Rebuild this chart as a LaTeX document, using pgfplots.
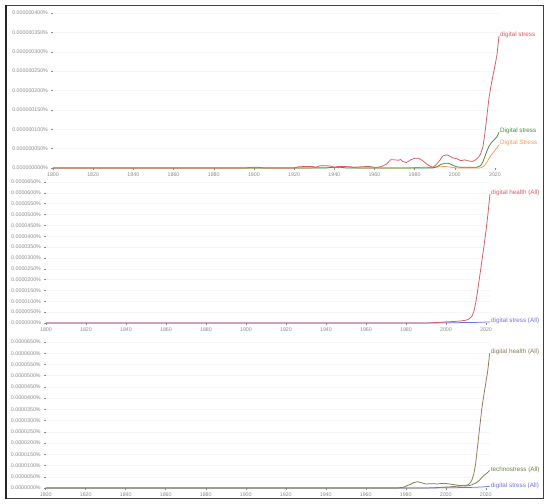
\documentclass[border=0pt]{standalone}
\usepackage{fontspec}
\setmainfont{Liberation Sans}
\usepackage{pgfplots}
\pgfplotsset{compat=1.18}
\definecolor{cred}{HTML}{D65A62}
\definecolor{cgreen}{HTML}{3D8B3D}
\definecolor{corange}{HTML}{F39A56}
\definecolor{cblue}{HTML}{6F74D8}
\definecolor{cbrown}{HTML}{8A7B55}
\definecolor{colive}{HTML}{6E8050}
\definecolor{tickgray}{HTML}{8A8A8A}
\tikzset{lbl/.style={anchor=west, font=\fontsize{6.3}{7}\selectfont, inner sep=1pt}}
\pgfplotsset{
  ngram/.style={
    scale only axis,
    xmin=1800, xmax=2022,
    ymin=0,
    axis line style={draw=none},
    tick align=outside,
    xtick pos=left, ytick pos=left,
    major tick length=2pt,
    tick style={tickgray, line width=0.4pt},
    xtick={1800,1820,1840,1860,1880,1900,1920,1940,1960,1980,2000,2020},
    xticklabels={1800,1820,1840,1860,1880,1900,1920,1940,1960,1980,2000,2020},
    tick label style={font=\fontsize{5.3}{6}\selectfont, text=tickgray},
    xticklabel style={yshift=1pt},
    yticklabel style={xshift=0.5pt},
    ymajorgrids,
    grid style={gray!7, line width=0.4pt},
    clip=false,
    every axis plot/.append style={line width=0.75pt, line join=round},
  }
}
\begin{document}
\begin{tikzpicture}
\useasboundingbox (0pt,0pt) rectangle (550pt,504pt);
\fill[white] (0pt,0pt) rectangle (550pt,504pt);

% ---------- Panel 1 ----------
\begin{axis}[ngram, at={(53pt,336pt)}, anchor=south west, width=446pt, height=155pt,
  ymax=400, ytick={0,50,...,400},
  yticklabels={0.000000000\%,0.000000050\%,0.000000100\%,0.000000150\%,0.000000200\%,0.000000250\%,0.000000300\%,0.000000350\%,0.000000400\%}]
\addplot[corange] coordinates {(1800,0)(1928,0)(1932,2)(1936,2)(1940,1)(1944,3)(1948,2)(1952,0)(1976,0)(1980,1)(1985,2)(1989,1)(1992,3)(1995,4)(1998,2)(2001,0)(2012,0)(2013,1)(2014,3)(2015,8)(2016,15)(2017,24)(2018,33)(2019,39)(2020,46)(2021,52)(2022,60)};
\addplot[cgreen] coordinates {(1800,0)(1936,0)(1939,2)(1943,2)(1946,0)(1989,0)(1991,3)(1993,9)(1995,12)(1997,12)(1999,7)(2001,3)(2003,2)(2011,2)(2012,4)(2013,7)(2014,16)(2015,30)(2016,44)(2017,56)(2018,64)(2019,70)(2020,75)(2021,81)(2022,92)};
\addplot[cred] coordinates {(1800,0)(1896,0)(1899,2)(1902,2)(1905,0)(1920,0)(1922,3)(1926,4)(1929,4)(1931,2)(1933,6)(1936,6)(1938,5)(1940,2)(1942,4)(1945,4)(1948,3)(1950,2)(1953,3)(1957,4)(1960,2)(1962,2)(1964,5)(1966,10)(1968,21)(1970,21)(1972,20)(1973,22)(1974,17)(1976,14)(1978,21)(1980,25)(1982,25)(1984,19)(1986,10)(1988,4)(1989,2)(1990,5)(1992,16)(1994,31)(1996,34)(1997,32)(1999,26)(2001,24)(2003,19)(2005,21)(2007,18)(2009,17)(2010,20)(2011,24)(2012,29)(2013,38)(2014,55)(2015,90)(2016,135)(2017,180)(2018,212)(2019,238)(2020,264)(2021,292)(2022,341)};
\node[lbl, text=cred] at (axis cs:2022,343) {digital stress};
\node[lbl, text=cgreen] at (axis cs:2022,96) {Digital stress};
\node[lbl, text=corange] at (axis cs:2022,64) {Digital Stress};
\end{axis}

% ---------- Panel 2 ----------
\begin{axis}[ngram, at={(46pt,181pt)}, anchor=south west, width=444pt, height=141pt,
  ymax=65, ytick={0,5,...,65},
  yticklabels={0.0000000\%,0.0000050\%,0.0000100\%,0.0000150\%,0.0000200\%,0.0000250\%,0.0000300\%,0.0000350\%,0.0000400\%,0.0000450\%,0.0000500\%,0.0000550\%,0.0000600\%,0.0000650\%}]
\addplot[cblue] coordinates {(1800,0)(1994,0)(1998,0.1)(2004,0.15)(2010,0.2)(2014,0.25)(2018,0.35)(2022,0.5)};
\addplot[cred] coordinates {(1800,0)(1990,0)(1995,0.2)(2000,0.5)(2004,0.7)(2008,1.0)(2010,1.3)(2011,1.6)(2012,2.2)(2013,3.2)(2014,5.5)(2015,10)(2016,16)(2017,22.5)(2018,29)(2019,35.5)(2020,42.5)(2021,50.5)(2022,59.5)};
\node[lbl, text=cred] at (axis cs:2022,60) {digital health (All)};
\node[lbl, text=cblue] at (axis cs:2022,0.8) {digital stress (All)};
\end{axis}

% ---------- Panel 3 ----------
\begin{axis}[ngram, at={(45.7pt,16pt)}, anchor=south west, width=444pt, height=146pt,
  ymax=65, ytick={0,5,...,65},
  yticklabels={0.0000000\%,0.0000050\%,0.0000100\%,0.0000150\%,0.0000200\%,0.0000250\%,0.0000300\%,0.0000350\%,0.0000400\%,0.0000450\%,0.0000500\%,0.0000550\%,0.0000600\%,0.0000650\%}]
\addplot[cblue] coordinates {(1800,0)(1994,0)(1998,0.1)(2004,0.15)(2010,0.2)(2014,0.3)(2018,0.45)(2022,0.7)};
\addplot[colive] coordinates {(1800,0)(1976,0)(1979,0.4)(1982,1.5)(1984,2.4)(1986,2.8)(1988,2.3)(1990,1.8)(1993,1.9)(1996,1.8)(1999,2.1)(2001,1.9)(2004,1.5)(2007,1.1)(2010,0.9)(2012,1.1)(2013,1.4)(2014,1.8)(2015,2.2)(2016,2.8)(2017,3.6)(2018,4.6)(2019,5.5)(2020,6.2)(2021,6.9)(2022,7.8)};
\addplot[cbrown] coordinates {(1800,0)(1990,0)(1996,0.2)(2002,0.5)(2006,0.8)(2010,1.1)(2011,1.4)(2012,2.0)(2013,3.3)(2014,6)(2015,11)(2016,19)(2017,27)(2018,35)(2019,41)(2020,46.5)(2021,52)(2022,60)};
\node[lbl, text=cbrown!90!gray] at (axis cs:2022,60.5) {digital health (All)};
\node[lbl, text=colive] at (axis cs:2022,8.2) {technostress (All)};
\node[lbl, text=cblue] at (axis cs:2022,1.0) {digital stress (All)};
\end{axis}

% frame
\draw[black!75, line width=0.8pt] (6pt,5.5pt) -- (543pt,5.5pt) -- (543pt,498.5pt) -- (6pt,498.5pt);
\draw[black!85, line width=2pt] (6pt,4.6pt) -- (6pt,499.4pt);
\end{tikzpicture}
\end{document}
